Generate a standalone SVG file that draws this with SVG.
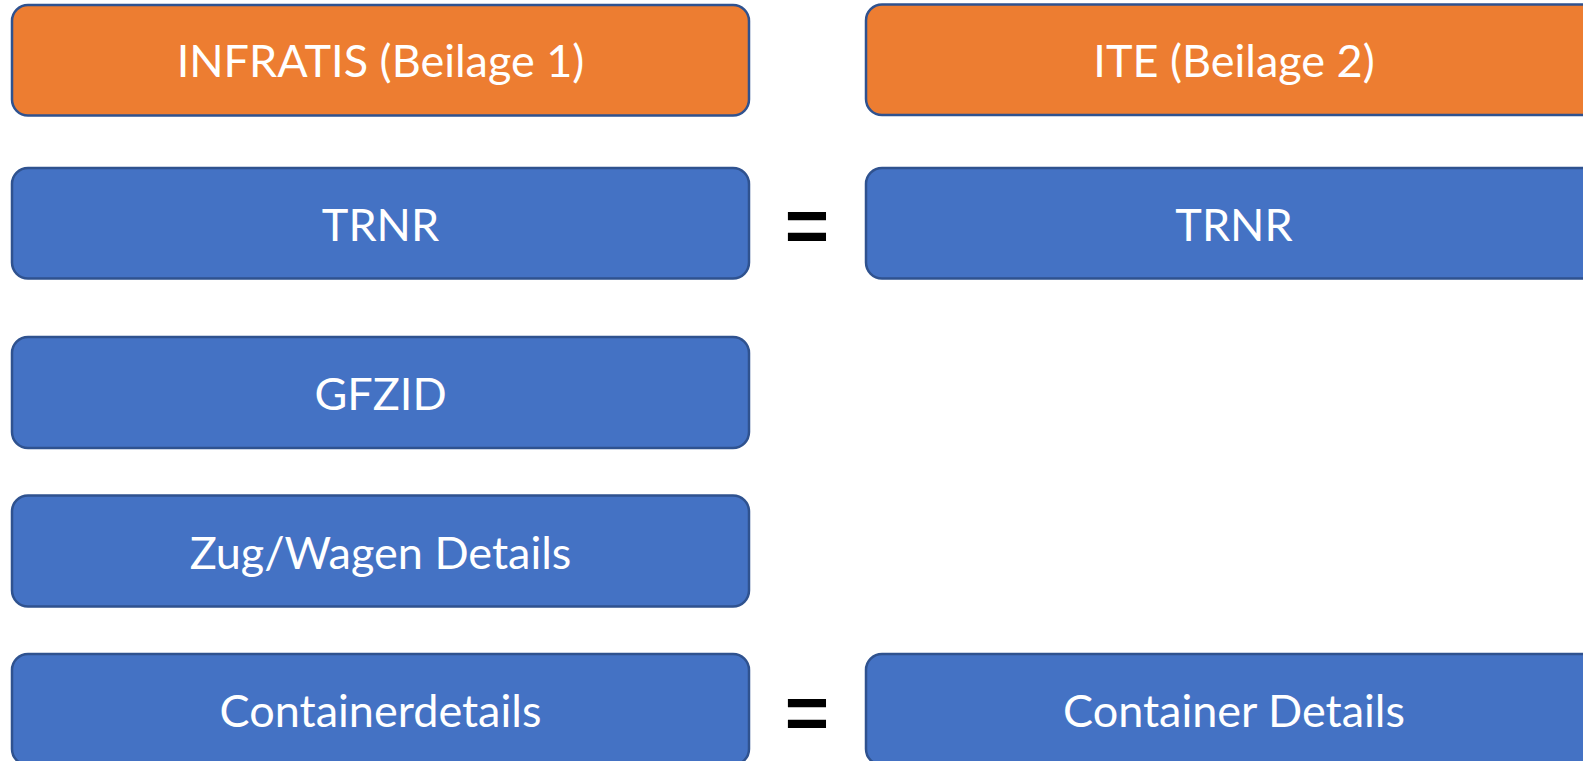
<svg xmlns="http://www.w3.org/2000/svg" width="1583" height="761" viewBox="0 0 1583 761">
<style>
.box{stroke:#2F528F;stroke-width:2.5}
.or{fill:#ED7D31}
.bl{fill:#4472C4}
.lbl{font-family:Lato,"Open Sans","Liberation Sans",sans-serif;font-size:45px;fill:#FFFFFF;text-anchor:middle}
.eq{font-family:"Liberation Sans",Arial,sans-serif;font-size:76px;font-weight:bold;fill:#000000;text-anchor:middle}
</style>
<rect width="1583" height="761" fill="#FFFFFF"/>
<g id="infratis">
<rect class="box or" x="12" y="5" width="737" height="110.5" rx="16"/>
<text class="lbl" x="380.5" y="77">INFRATIS (Beilage 1)</text>
</g>
<g id="ite">
<rect class="box or" x="866" y="4.5" width="737" height="110.5" rx="16"/>
<text class="lbl" x="1234" y="77">ITE (Beilage 2)</text>
</g>
<g id="trnr-left">
<rect class="box bl" x="12" y="168" width="737" height="110.5" rx="16"/>
<text class="lbl" x="380.5" y="241">TRNR</text>
</g>
<g id="trnr-right">
<rect class="box bl" x="866" y="168" width="737" height="110.5" rx="16"/>
<text class="lbl" x="1234" y="241">TRNR</text>
</g>
<g id="gfzid">
<rect class="box bl" x="12" y="337" width="737" height="111" rx="16"/>
<text class="lbl" x="380.5" y="410">GFZID</text>
</g>
<g id="zugwagen">
<rect class="box bl" x="12" y="495.5" width="737" height="111" rx="16"/>
<text class="lbl" x="380.5" y="568.5">Zug/Wagen Details</text>
</g>
<g id="containerdetails">
<rect class="box bl" x="12" y="654" width="737" height="111" rx="16"/>
<text class="lbl" x="380.5" y="727">Containerdetails</text>
</g>
<g id="container-details">
<rect class="box bl" x="866" y="654" width="737" height="111" rx="16"/>
<text class="lbl" x="1234" y="727">Container Details</text>
</g>
<g id="connectors">
<text class="eq" x="807" y="251.5">=</text>
<text class="eq" x="807" y="739">=</text>
</g>
</svg>
